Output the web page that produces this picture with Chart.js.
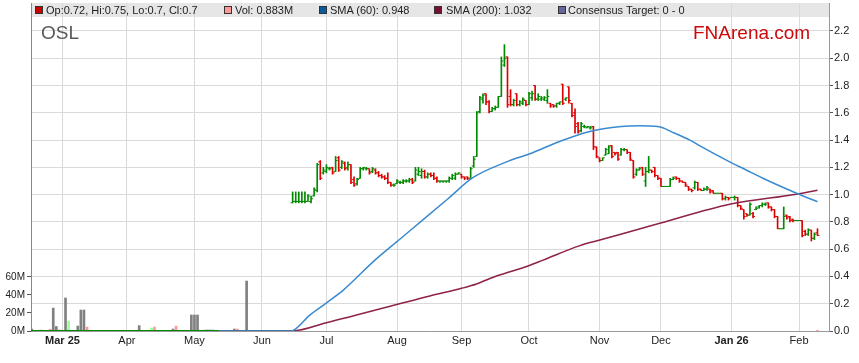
<!DOCTYPE html>
<html>
<head>
<meta charset="utf-8">
<script src="https://cdn.jsdelivr.net/npm/chart.js@4.4.1/dist/chart.umd.min.js"></script>
<style>
  html, body { margin: 0; padding: 0; background: #fff; }
  #wrap { position: relative; width: 859px; height: 363px; overflow: hidden; font-family: "Liberation Sans", Arial, sans-serif; }
  #band { position: absolute; left: 31px; top: 3px; width: 798px; height: 14px; background: #e6e6e6; }
  canvas { position: absolute; left: 0; top: 0; }
  .sw { position: absolute; top: 6px; width: 6px; height: 6px; border: 1px solid #333; }
  .tx { position: absolute; top: 3px; height: 14px; line-height: 14px; font-size: 11px; color: #222; white-space: nowrap; }
  #code { position: absolute; left: 41px; top: 23px; font-size: 19px; line-height: 19px; color: #5a5a5a; }
  #brand { position: absolute; left: 693px; top: 23px; font-size: 19px; line-height: 19px; color: #cc0a0a; }
</style>
</head>
<body>
<div id="wrap">
  <div id="band"></div>
  <canvas id="chart" width="859" height="363"></canvas>
  <div class="sw" style="left:35px;background:#cc0000"></div><div class="tx" style="left:46px">Op:0.72, Hi:0.75, Lo:0.7, Cl:0.7</div>
  <div class="sw" style="left:224px;background:#ff9999"></div><div class="tx" style="left:235px">Vol: 0.883M</div>
  <div class="sw" style="left:319px;background:#0b5a9a"></div><div class="tx" style="left:330px">SMA (60): 0.948</div>
  <div class="sw" style="left:434px;background:#7a1030"></div><div class="tx" style="left:446px">SMA (200): 1.032</div>
  <div class="sw" style="left:558px;background:#66669a"></div><div class="tx" style="left:568px">Consensus Target: 0 - 0</div>
  <div id="code">OSL</div>
  <div id="brand">FNArena.com</div>
</div>
<script>
// x is a weekday index, 0 = Mon 17 Feb 2025
const monthIdx = [10, 31, 53, 75, 96, 119, 140, 162, 185, 205, 228, 250];
const monthLabels = ['Mar 25', 'Apr', 'May', 'Jun', 'Jul', 'Aug', 'Sep', 'Oct', 'Nov', 'Dec', 'Jan 26', 'Feb'];
const priceTicks = [0, 0.2, 0.4, 0.6, 0.8, 1.0, 1.2, 1.4, 1.6, 1.8, 2.0, 2.2];
const volTicks = [0, 20, 40, 60];

// price bars start at weekday 85 (mid June), price reads 0 before that
const firstBar = 85;
const zeroSpan = [-0.25, 84.5];

const opens = [
  .94,.95,.95,.95,.95,.95,.95,.99,1.03,1.24,
  1.16,1.17,1.19,1.20,1.17,1.27,1.20,1.23,1.20,1.22,
  1.11,1.08,1.12,1.19,1.19,1.19,1.17,1.18,1.16,1.14,
  1.13,1.12,1.09,1.07,1.08,1.09,1.09,1.10,1.10,1.11,
  1.10,1.15,1.14,1.17,1.13,1.15,1.14,1.12,1.10,1.10,
  1.10,1.10,1.12,1.12,1.15,1.15,1.13,1.13,1.12,1.21,
  1.28,1.61,1.70,1.74,1.68,1.61,1.63,1.64,1.72,1.95,
  2.01,1.72,1.66,1.74,1.66,1.67,1.69,1.66,1.71,1.80,
  1.70,1.70,1.70,1.69,1.67,1.66,1.65,1.67,1.81,1.70,
  1.79,1.67,1.60,1.52,1.47,1.50,1.49,1.49,1.50,1.35,
  1.27,1.25,1.29,1.30,1.36,1.31,1.31,1.29,1.33,1.33,
  1.31,1.25,1.15,1.18,1.20,1.10,1.17,1.18,1.20,1.14,
  1.12,1.06,1.06,1.06,1.11,1.13,1.12,1.10,1.09,1.06,
  1.04,1.05,1.09,1.04,1.03,1.04,1.04,1.03,1.01,1.01,
  1.01,.97,.98,.98,.98,.98,.92,.89,.86,.85,
  .86,.89,.91,.92,.93,.94,.91,.89,.84,.75,
  .75,.85,.84,.82,.81,.81,.81,.73,.71,.74,
  .68,.72
];
const highs = [
  1.02,1.02,1.02,1.02,1.02,1.00,.99,1.05,1.23,1.25,
  1.20,1.22,1.20,1.20,1.28,1.28,1.25,1.24,1.24,1.22,
  1.13,1.12,1.20,1.20,1.20,1.19,1.20,1.19,1.17,1.15,
  1.14,1.16,1.09,1.08,1.11,1.10,1.11,1.11,1.12,1.12,
  1.20,1.20,1.19,1.18,1.16,1.16,1.16,1.13,1.10,1.10,
  1.10,1.13,1.15,1.16,1.16,1.15,1.13,1.13,1.20,1.28,
  1.61,1.72,1.74,1.74,1.69,1.64,1.65,1.72,2.01,2.10,
  2.01,1.77,1.70,1.74,1.69,1.71,1.69,1.75,1.76,1.80,
  1.74,1.72,1.72,1.77,1.67,1.66,1.67,1.68,1.81,1.71,
  1.79,1.67,1.63,1.53,1.53,1.51,1.50,1.50,1.50,1.35,
  1.27,1.27,1.34,1.36,1.36,1.31,1.31,1.34,1.34,1.33,
  1.31,1.25,1.19,1.20,1.20,1.20,1.28,1.18,1.20,1.14,
  1.12,1.06,1.06,1.12,1.13,1.13,1.12,1.10,1.09,1.06,
  1.04,1.10,1.09,1.04,1.05,1.06,1.04,1.03,1.01,1.01,
  1.01,.99,.98,.98,.99,.98,.92,.89,.86,.94,
  .87,.91,.92,.94,.94,.94,.91,.89,.84,.75,
  .91,.85,.84,.82,.81,.81,.81,.74,.75,.74,
  .72,.75
];
const lows = [
  .94,.94,.94,.94,.94,.95,.94,.99,1.02,1.11,
  1.15,1.16,1.18,1.15,1.17,1.17,1.19,1.18,1.18,1.08,
  1.06,1.07,1.12,1.18,1.18,1.15,1.16,1.15,1.13,1.12,
  1.11,1.08,1.06,1.06,1.08,1.08,1.08,1.09,1.09,1.08,
  1.10,1.14,1.12,1.12,1.12,1.13,1.11,1.09,1.09,1.09,
  1.09,1.09,1.11,1.11,1.15,1.12,1.11,1.11,1.12,1.20,
  1.28,1.60,1.67,1.66,1.60,1.61,1.62,1.64,1.72,1.94,
  1.64,1.65,1.65,1.65,1.65,1.66,1.65,1.66,1.69,1.69,
  1.69,1.69,1.69,1.67,1.64,1.64,1.64,1.66,1.66,1.69,
  1.67,1.57,1.45,1.45,1.46,1.49,1.49,1.48,1.33,1.27,
  1.24,1.25,1.29,1.30,1.27,1.29,1.25,1.29,1.32,1.30,
  1.25,1.12,1.14,1.18,1.14,1.06,1.16,1.16,1.13,1.11,
  1.06,1.06,1.06,1.06,1.11,1.11,1.09,1.09,1.06,1.03,
  1.02,1.04,1.03,1.03,1.03,1.03,1.01,1.01,1.01,1.01,
  .96,.96,.96,.98,.96,.91,.89,.82,.84,.85,
  .83,.89,.90,.91,.92,.90,.88,.83,.75,.75,
  .75,.82,.80,.80,.81,.81,.69,.70,.70,.66,
  .67,.70
];
const closes = [
  .95,.95,.95,.95,.95,.99,.97,1.04,1.22,1.12,
  1.18,1.20,1.19,1.16,1.25,1.18,1.24,1.19,1.22,1.09,
  1.07,1.11,1.19,1.20,1.19,1.16,1.19,1.16,1.14,1.13,
  1.12,1.09,1.07,1.07,1.10,1.09,1.10,1.10,1.11,1.09,
  1.18,1.17,1.17,1.13,1.15,1.14,1.12,1.10,1.10,1.10,
  1.10,1.12,1.14,1.15,1.16,1.13,1.12,1.12,1.19,1.26,
  1.60,1.71,1.73,1.68,1.61,1.63,1.64,1.72,1.98,2.00,
  1.66,1.66,1.69,1.66,1.68,1.70,1.66,1.74,1.74,1.70,
  1.72,1.71,1.71,1.72,1.65,1.65,1.67,1.68,1.67,1.71,
  1.69,1.58,1.50,1.46,1.52,1.50,1.50,1.49,1.35,1.28,
  1.25,1.27,1.33,1.35,1.28,1.30,1.26,1.33,1.33,1.31,
  1.26,1.13,1.18,1.19,1.15,1.17,1.18,1.17,1.14,1.12,
  1.06,1.06,1.06,1.11,1.12,1.12,1.10,1.09,1.07,1.04,
  1.03,1.09,1.04,1.03,1.04,1.05,1.02,1.01,1.01,1.01,
  .97,.98,.97,.98,.98,.92,.90,.84,.85,.93,
  .84,.90,.92,.93,.93,.91,.89,.84,.75,.75,
  .84,.83,.81,.81,.81,.81,.70,.71,.74,.68,
  .71,.70
];

// volume in millions: g = unchanged (grey), u = up, d = down
const volIdx = [0, 3, 6, 7, 8, 9, 11, 12, 15, 16, 17, 18, 35, 39, 40, 46, 47, 52, 53, 54, 56, 57, 58, 59, 66, 67, 70, 256];
const volM = [2.2, 1, 2, 25.5, 5, 1, 36.7, 11, 5.5, 23.3, 23.3, 4.4, 6, 3.3, 4.4, 2.2, 5.5, 17.8, 17.8, 17.8, 1, 1.1, 1.1, 1.1, 2.2, 2.2, 55.5, 0.883];
const volTone = ['g','g','d','g','g','g','g','u','g','g','g','d','g','u','d','g','d','g','g','g','u','g','g','g','g','d','g','d'];

const sma60Idx = [61, 84.4, 90.6, 95.8, 101.5, 111.8, 120, 128, 135.6, 143.7, 154.7, 162.3, 172, 181.2, 192.1, 198, 204, 209.5, 214.4, 217.7, 227.4, 232.3, 238.2, 249.2, 256];
const sma60Val = [0, 0, 0.117, 0.203, 0.30, 0.52, 0.675, 0.826, 0.97, 1.124, 1.24, 1.30, 1.39, 1.46, 1.50, 1.505, 1.50, 1.45, 1.40, 1.357, 1.24, 1.186, 1.12, 1.01, 0.948];
const sma200Idx = [61, 84.4, 96, 129.7, 140, 144.9, 151.4, 161.7, 166.6, 178.6, 185.1, 204.6, 227.4, 249.7, 256];
const sma200Val = [0, 0, 0.061, 0.257, 0.313, 0.345, 0.403, 0.477, 0.52, 0.626, 0.667, 0.79, 0.93, 1.005, 1.032];

const UP = '#008a00', DOWN = '#dd0000';
const toneColor = { g: '#808080', u: '#99ff99', d: '#ff9999' };
const TICK = 0.33; // open/close tick offset, in weekdays

Chart.defaults.font.family = '"Liberation Sans", Arial, sans-serif';
Chart.defaults.font.size = 11;
Chart.defaults.color = '#222';

const barColor = k => closes[k] >= opens[k] ? UP : DOWN;
const pts = (xs, ys) => xs.map((x, k) => ({ x: x, y: ys[k] }));

new Chart(document.getElementById('chart'), {
  type: 'bar',
  data: {
    datasets: [
      {
        type: 'line', label: 'SMA (60)', order: 1,
        data: pts(sma60Idx, sma60Val), yAxisID: 'y',
        borderColor: '#3a8ad0', borderWidth: 1.5, pointRadius: 0,
        cubicInterpolationMode: 'monotone'
      },
      {
        type: 'line', label: 'SMA (200)', order: 2,
        data: pts(sma200Idx, sma200Val), yAxisID: 'y',
        borderColor: '#8e2248', borderWidth: 1.5, pointRadius: 0,
        cubicInterpolationMode: 'monotone'
      },
      {
        type: 'line', label: 'open', order: 3, showLine: false,
        data: opens.map((o, k) => ({ x: firstBar + k - TICK, y: o })), yAxisID: 'y',
        pointStyle: 'line', pointRadius: 1, pointHoverRadius: 1, pointBorderWidth: 1,
        pointBorderColor: c => barColor(c.dataIndex)
      },
      {
        type: 'line', label: 'close', order: 3, showLine: false,
        data: closes.map((v, k) => ({ x: firstBar + k + TICK, y: v })), yAxisID: 'y',
        pointStyle: 'line', pointRadius: 1, pointHoverRadius: 1, pointBorderWidth: 1,
        pointBorderColor: c => barColor(c.dataIndex)
      },
      {
        label: 'range', order: 4, grouped: false, barThickness: 1,
        data: highs.map((h, k) => ({ x: firstBar + k, y: [lows[k], h] })), yAxisID: 'y',
        backgroundColor: c => barColor(c.dataIndex), borderWidth: 0
      },
      {
        type: 'line', label: 'zero', order: 5,
        data: zeroSpan.map(x => ({ x: x, y: 0 })), yAxisID: 'y',
        borderColor: UP, borderWidth: 2, pointRadius: 0
      },
      {
        label: 'Vol', order: 6, grouped: false, barThickness: 2,
        data: pts(volIdx, volM), yAxisID: 'yv',
        backgroundColor: c => toneColor[volTone[c.dataIndex]], borderWidth: 0
      }
    ]
  },
  options: {
    responsive: false,
    animation: false,
    layout: { padding: { top: 3, left: 0, right: 0, bottom: 0 } },
    plugins: { legend: { display: false }, tooltip: { enabled: false } },
    scales: {
      x: {
        type: 'linear', min: -0.25, max: 259.75, offset: false,
        grid: { color: '#dadada', offset: false, drawTicks: false },
        border: { color: '#999' },
        ticks: {
          autoSkip: false, maxRotation: 0, padding: 3, color: '#222',
          font: c => ({ size: 11, weight: (c.tick && c.tick.label && c.tick.label.indexOf(' ') > 0) ? 'bold' : 'normal' }),
          callback: v => monthLabels[monthIdx.indexOf(v)]
        },
        afterBuildTicks: a => { a.ticks = monthIdx.map(v => ({ value: v })); },
        afterFit: a => { a.height = 32; a.paddingLeft = 0; a.paddingRight = 0; }
      },
      y: {
        position: 'right', min: 0, max: 2.4053, stacked: false,
        grid: { color: '#dadada', tickColor: '#555', tickLength: 4 },
        border: { color: '#999' },
        ticks: { padding: 1, color: '#222', font: { size: 11 }, callback: v => v.toFixed(1) },
        afterBuildTicks: a => { a.ticks = priceTicks.map(v => ({ value: v })); },
        afterFit: a => { a.width = 30; a.paddingTop = 0; a.paddingBottom = 0; }
      },
      yv: {
        position: 'left', min: 0, max: 364.4, stacked: false,
        grid: { drawOnChartArea: false, tickColor: '#555', tickLength: 4 },
        border: { color: '#888' },
        ticks: { padding: 2, color: '#222', font: { size: 10 }, callback: v => v + 'M' },
        afterBuildTicks: a => { a.ticks = volTicks.map(v => ({ value: v })); },
        afterFit: a => { a.width = 31; a.paddingTop = 0; a.paddingBottom = 0; }
      }
    }
  }
});
</script>
</body>
</html>
